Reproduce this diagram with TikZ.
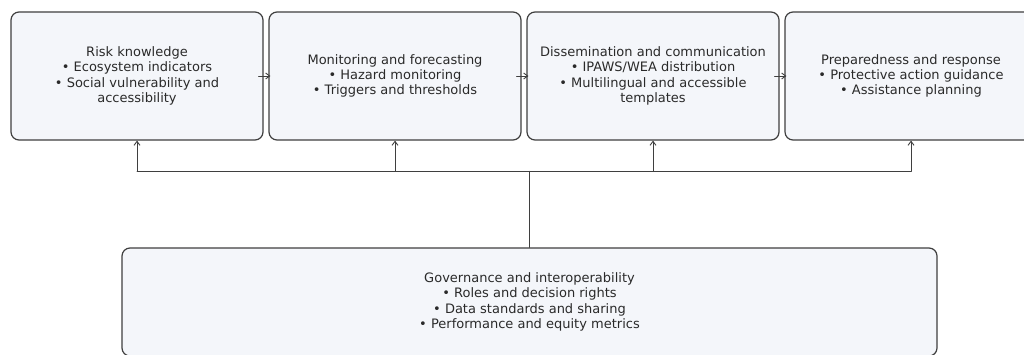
\documentclass[tikz,border=0pt]{standalone}
\usepackage{fontspec}
\setmainfont{DejaVu Sans}
\usetikzlibrary{arrows.meta,positioning}
\definecolor{boxfill}{HTML}{F4F6FA}
\definecolor{boxline}{HTML}{3F3F3F}
\definecolor{ink}{HTML}{2A2A2A}
\tikzset{
  stage/.style={draw=boxline,fill=boxfill,line width=1.2pt,rounded corners=8pt,
    minimum width=252pt,minimum height=128pt,align=center,text=ink,
    font=\fontsize{13}{15.4}\selectfont},
  govbox/.style={stage,minimum width=815pt,minimum height=108pt},
  flow/.style={draw=boxline,line width=0.9pt,-{Straight Barb[length=4pt,width=6pt]}},
  bus/.style={draw=boxline,line width=0.9pt}
}

\begin{document}
\begin{tikzpicture}[x=1pt,y=1pt,line cap=round,line join=round]
    \useasboundingbox (0,0) rectangle (1024,354);
    \clip (0,0) rectangle (1024,354);
    % the four stages in a row
    \node[stage] (risk) at (137,278) {Risk knowledge\\ • Ecosystem indicators\\ • Social vulnerability and\\ accessibility};
    \node[stage,right=4.8pt of risk] (monitor) {Monitoring and forecasting\\ • Hazard monitoring\\ • Triggers and thresholds};
    \node[stage,right=4.8pt of monitor] (dissem) {Dissemination and communication\\ • IPAWS/WEA distribution\\ • Multilingual and accessible\\ templates};
    \node[stage,right=4.8pt of dissem] (prep) {Preparedness and response\\ • Protective action guidance\\ • Assistance planning};
    % governance underneath
    \node[govbox] (gov) at (529.5,52) {Governance and interoperability\\ • Roles and decision rights\\ • Data standards and sharing\\ • Performance and equity metrics};
    \draw[flow] ([xshift=-5pt]risk.east) -- ([xshift=2pt]monitor.west);
    \draw[flow] ([xshift=-5pt]monitor.east) -- ([xshift=2pt]dissem.west);
    \draw[flow] ([xshift=-5pt]dissem.east) -- ([xshift=2pt]prep.west);
    % feedback bus from governance to every stage
    \coordinate (hub) at ([yshift=76pt]gov.north);
    \draw[bus] (gov.north) -- (hub);
    \draw[bus] (risk |- hub) -- (prep |- hub);
    \foreach \s in {risk,monitor,dissem,prep}
      \draw[flow] (\s |- hub) -- (\s.south);
\end{tikzpicture}
\end{document}
